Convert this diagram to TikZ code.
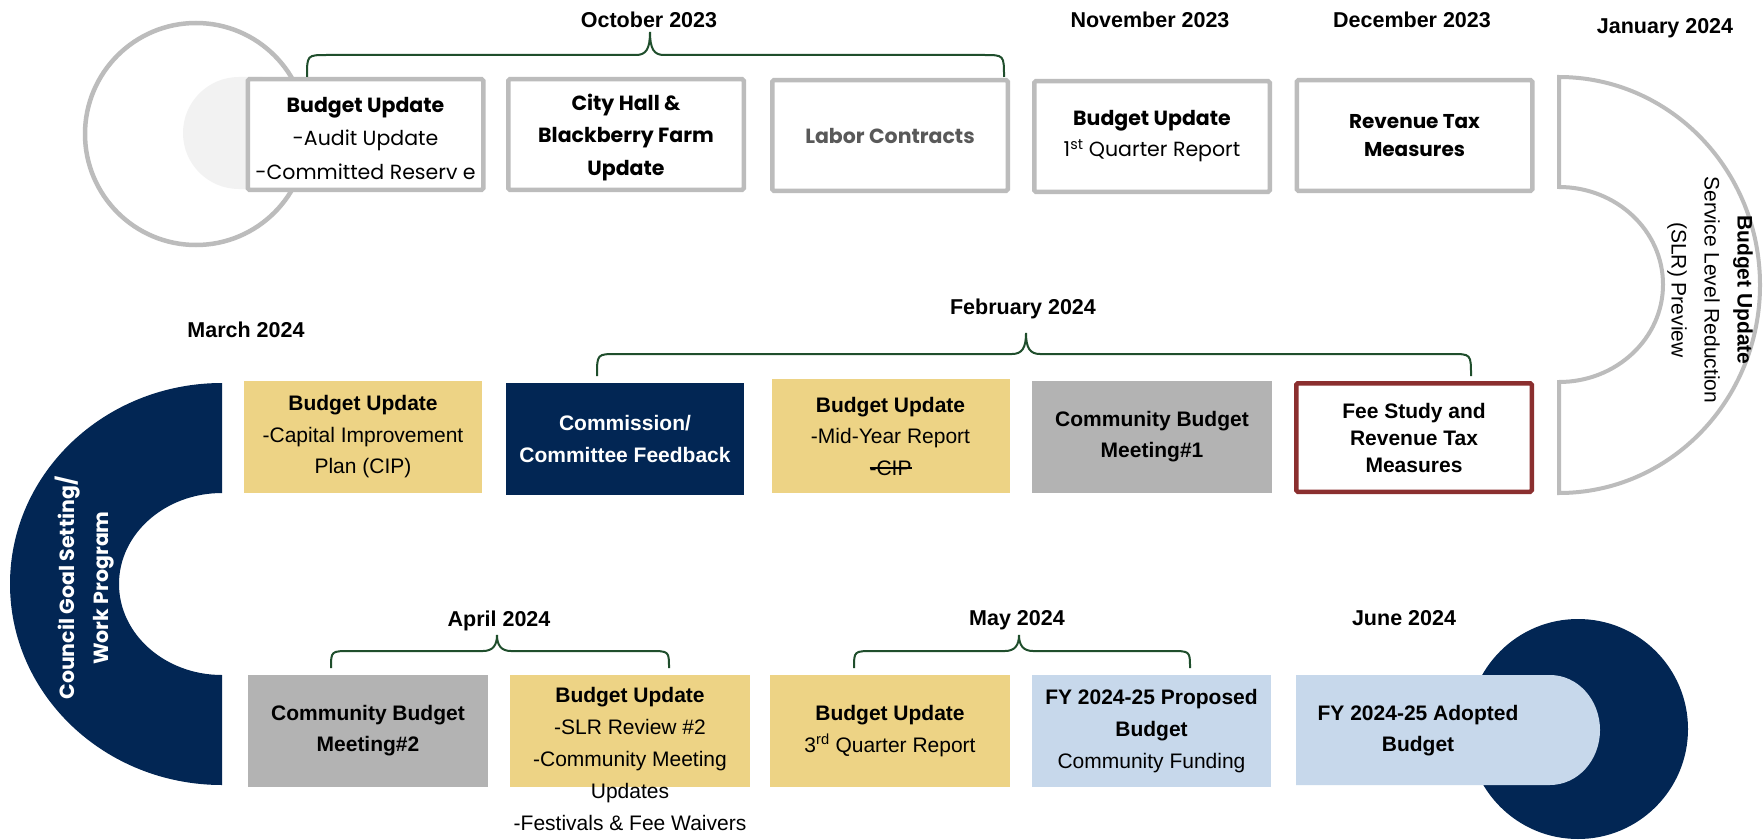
\documentclass[tikz,border=0pt]{standalone}
\usepackage{fontspec}
\setmainfont{Liberation Sans}
\newfontfamily\gothic{Poppins}
\definecolor{navyc}{HTML}{022654}
\definecolor{gold}{HTML}{EDD385}
\definecolor{midgray}{HTML}{B3B3B3}
\definecolor{lightblue}{HTML}{C7D8EB}
\definecolor{boxgray}{HTML}{BCBCBC}
\definecolor{palegray}{HTML}{F2F2F2}
\definecolor{darkred}{HTML}{8B2F2F}
\definecolor{bracegreen}{HTML}{1F4E2C}
\definecolor{labelgray}{HTML}{595959}
\newcommand{\strikeit}[1]{\begingroup\setbox0\hbox{#1}\rlap{\rule[0.3em]{\wd0}{0.07em}}\box0\endgroup}
\newcommand{\mybrace}[6]{%
  \draw[bracestyle] (#1,#6) .. controls (#1,#4) .. (#1+20,#4) -- (#3-14,#4)
    .. controls (#3-4,#4) and (#3,#4-6) .. (#3,#5)
    .. controls (#3,#4-6) and (#3+4,#4) .. (#3+14,#4) -- (#2-20,#4)
    .. controls (#2,#4) .. (#2,#6);}
\begin{document}
\begin{tikzpicture}[x=1pt,y=-1pt,
  topbox/.style={draw=boxgray, line width=4.5pt, fill=white, rounded corners=1.5pt,
    minimum width=235.5pt, minimum height=110.5pt, inner sep=0pt, align=center,
    font=\gothic\fontsize{20.5}{33}\selectfont},
  midbox/.style={minimum width=238pt, minimum height=112pt, inner sep=0pt, align=center,
    font=\fontsize{21}{31.5}\selectfont},
  month/.style={font=\bfseries\fontsize{21.5}{24}\selectfont, text height=15.5pt, text depth=0pt, inner sep=0pt},
  bracestyle/.style={draw=bracegreen, line width=2pt},
]
\fill[white] (0,0) rectangle (1763,840);
\useasboundingbox (0,0) rectangle (1763,840);

% ---- top-left circle and pale half disc
\draw[boxgray, line width=4.5pt] (196,134) circle[radius=111];
\fill[palegray] (262,77) -- (239,77) arc[start angle=270, end angle=90, radius=56] -- (262,189) -- cycle;

% ---- row 1
\node[topbox] (b1) at (365.5,134.5) {};
\node[align=center, inner sep=0pt, font=\gothic\fontsize{20.5}{33.5}\selectfont] (b1t) at (365.5,138.5) {\textbf{Budget Update}\\-Audit Update\\-Committed Reserv e};
\node[topbox] (b2) at (626,134.5) {};
\node[align=center, inner sep=0pt, font=\gothic\bfseries\fontsize{20.5}{32.5}\selectfont] (b2t) at (626,137.5) {City Hall \&\\Blackberry Farm\\Update};
\node[topbox, font=\gothic\bfseries\fontsize{20.5}{33}\selectfont, text=labelgray] (b3) at (890,135.5) {Labor Contracts};
\node[topbox, font=\gothic\fontsize{20.5}{31}\selectfont] (b4) at (1152,136.5) {\textbf{Budget Update}\\1\textsuperscript{st} Quarter Report};
\node[topbox, font=\gothic\bfseries\fontsize{20}{28}\selectfont] (b5) at (1414.5,135.5) {Revenue Tax\\Measures};

% ---- right half annulus
\draw[draw=boxgray, line width=4pt, fill=white] (1559,77) arc[start angle=270, end angle=450, x radius=201, y radius=208]
  -- (1559,382) arc[start angle=90, end angle=-90, x radius=104, y radius=97.5] -- cycle;
\node[rotate=-90, align=center, font=\fontsize{21}{33}\selectfont] (slr) at (1710,290)
  {\textbf{Budget Update}\\Service Level Reduction\\(SLR) Preview};

% ---- left navy C
\fill[navyc] (222,383) arc[start angle=270, end angle=90, x radius=212, y radius=201]
  -- (222,675) arc[start angle=90, end angle=270, x radius=103, y radius=91] -- cycle;
\node[rotate=90, align=center, text=white, font=\gothic\bfseries\fontsize{20.5}{34}\selectfont] (council) at (85,588)
  {Council Goal Setting/\\Work Program};

% ---- row 2
\node[midbox, fill=gold] (c1) at (363,437) {\textbf{Budget Update}\\-Capital Improvement\\Plan (CIP)};
\node[midbox, fill=navyc, text=white, font=\bfseries\fontsize{21}{32}\selectfont] (c2) at (625,439) {Commission/\\Committee Feedback};
\node[midbox, fill=gold, minimum height=114pt] (c3) at (890.5,436) {\textbf{Budget Update}\\-Mid-Year Report\\\strikeit{-CIP}};
\node[midbox, fill=midgray, minimum width=240pt, font=\bfseries\fontsize{21}{31}\selectfont] (c4) at (1152,437) {Community Budget\\Meeting\#1};
\node[midbox, draw=darkred, line width=4.5pt, fill=white, minimum width=235.5pt, minimum height=108.5pt,
  rounded corners=1.5pt, font=\bfseries\fontsize{21}{27}\selectfont] (c5) at (1414,437.5) {Fee Study and\\Revenue Tax\\Measures};

% ---- row 3
\node[midbox, fill=midgray, minimum width=240pt, font=\bfseries\fontsize{21}{31}\selectfont] (d1) at (368,731) {Community Budget\\Meeting\#2};
\node[midbox, fill=gold, minimum width=240pt] (d2) at (630,731) {};
\node[align=center, font=\fontsize{21}{32}\selectfont, inner sep=0pt] (d2t) at (630,759)
  {\textbf{Budget Update}\\-SLR Review \#2\\-Community Meeting\\Updates\\-Festivals \& Fee Waivers};
\node[midbox, fill=gold, minimum width=240pt] (d3) at (890,731) {\textbf{Budget Update}\\3\textsuperscript{rd} Quarter Report};
\node[midbox, fill=lightblue, minimum width=239pt, font=\fontsize{21}{32}\selectfont] (d4) at (1151.5,731)
  {\textbf{FY 2024-25 Proposed}\\\textbf{Budget}\\Community Funding};
\fill[navyc] (1578,729) circle[radius=110];
\fill[lightblue] (1296,675) -- (1550,675) arc[start angle=270, end angle=450, x radius=50, y radius=55] -- (1296,785) -- cycle;
\node[align=center, font=\bfseries\fontsize{21}{31}\selectfont] (d5) at (1418,731) {FY 2024-25 Adopted\\Budget};

% ---- month labels
\node[month] (oct) at (649,20) {October 2023};
\node[month] (nov) at (1150,20) {November 2023};
\node[month] (dec) at (1412,20) {December 2023};
\node[month] (jan) at (1665,26) {January 2024};
\node[month] (mar) at (246,330) {March 2024};
\node[month] (feb) at (1023,307) {February 2024};
\node[month] (apr) at (499,619) {April 2024};
\node[month] (may) at (1017,618) {May 2024};
\node[month] (jun) at (1404,618) {June 2024};

% ---- braces
\mybrace{307}{1004}{650}{55}{32}{77}
\mybrace{597}{1471}{1026}{354}{333}{376}
\mybrace{331}{669}{497}{651}{635}{668}
\mybrace{854}{1190}{1019}{651}{635}{668}
\end{tikzpicture}
\end{document}
